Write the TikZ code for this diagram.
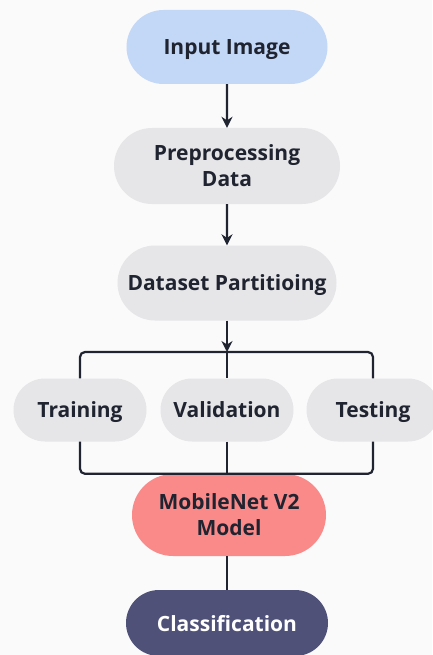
\documentclass[tikz,border=0pt]{standalone}
\usepackage{fontspec}
\setmainfont{Open Sans}
\usetikzlibrary{shapes.misc,arrows.meta}
\definecolor{inblue}{HTML}{C3D7F7}
\definecolor{stepgray}{HTML}{E6E6E8}
\definecolor{modelred}{HTML}{F98A89}
\definecolor{outnavy}{HTML}{4F5178}
\definecolor{linedark}{HTML}{1F2430}
\definecolor{paper}{HTML}{FAFAFB}

\begin{document}
\begin{tikzpicture}[x=1pt,y=-1pt]
\tikzset{pill/.style ={rounded rectangle, fill=stepgray, text=linedark, align=center,
  font=\fontsize{21}{26}\selectfont\bfseries, inner sep=0pt, text depth=0pt}}
\tikzset{link/.style ={draw=linedark, line width=2.2pt}}
\tikzset{flow/.style ={link, -{Stealth[length=11pt,width=11pt]}}}
\fill[paper] (0,0) rectangle (432,655);
\useasboundingbox (0,0) rectangle (432,655);
\node[pill, fill=inblue, minimum width=201pt, minimum height=74pt] (input) at (227,47) {Input Image};
\node[pill, minimum width=226pt, minimum height=76pt] (prep) at (227,166) {Preprocessing\\Data};
\node[pill, minimum width=219pt, minimum height=75pt] (part) at (227,283) {Dataset Partitioing};
\coordinate (split) at (227,352);
\node[pill, minimum width=133pt, minimum height=63pt] (train) at (80,410) {Training};
\node[pill, minimum width=133pt, minimum height=63pt] (valid) at (227,410) {Validation};
\node[pill, minimum width=133pt, minimum height=63pt] (test) at (373,410) {Testing};
\node[pill, fill=modelred, minimum width=194pt, minimum height=82pt] (model) at (229,515) {MobileNet V2\\Model};
\node[pill, fill=outnavy, text=white, minimum width=202pt, minimum height=66pt] (class) at (227,623) {Classification};
\draw[flow] (input) -- (prep);
\draw[flow] (prep) -- (part);
\draw[flow] (part) -- (split);
\draw[link, rounded corners=5pt] (split) -| (train.north);
\draw[link, rounded corners=5pt] (split) -| (test.north);
\draw[link] (split) -- (valid.north);
\draw[link, rounded corners=5pt] (train.south) |- (model.north);
\draw[link, rounded corners=5pt] (test.south) |- (model.north);
\draw[link] (valid.south) -- (valid.south |- model.north);
\draw[link] (model.south -| class.north) -- (class.north);
\end{tikzpicture}
\end{document}
